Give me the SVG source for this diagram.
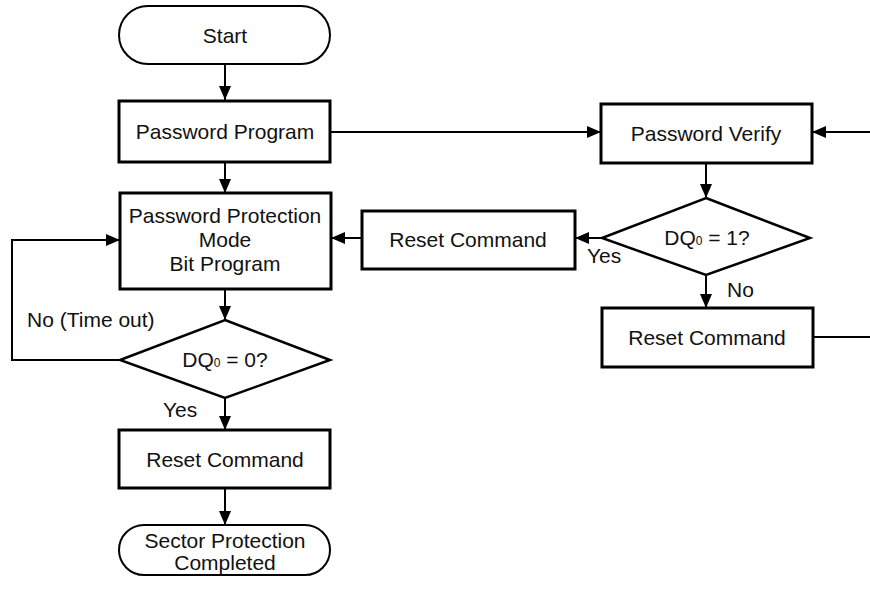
<svg xmlns="http://www.w3.org/2000/svg" width="870" height="590" viewBox="0 0 870 590">
<style>
  text { font-family: "Liberation Sans", Arial, sans-serif; font-size: 21px; fill: #111; text-anchor: middle; }
  .lbl { text-anchor: start; }
  .box { fill: #fff; stroke: #000; stroke-width: 3; }
  .term { fill: #fff; stroke: #000; stroke-width: 2; }
  .dia { fill: #fff; stroke: #000; stroke-width: 2.5; stroke-linejoin: miter; }
  .con { fill: none; stroke: #000; stroke-width: 2; }
  .sub { font-size: 12px; }
</style>
<defs>
  <marker id="arr" markerUnits="userSpaceOnUse" markerWidth="14" markerHeight="12" refX="14" refY="6" orient="auto">
    <path d="M0,0 L14,6 L0,12 z" fill="#000"/>
  </marker>
</defs>
<rect width="870" height="590" fill="#fff"/>

<g id="connectors">
  <line class="con" x1="225" y1="64" x2="225" y2="100" marker-end="url(#arr)"/>
  <line class="con" x1="225" y1="162" x2="225" y2="193" marker-end="url(#arr)"/>
  <line class="con" x1="331" y1="132" x2="601" y2="132" marker-end="url(#arr)"/>
  <line class="con" x1="870" y1="132" x2="812" y2="132" marker-end="url(#arr)"/>
  <line class="con" x1="706" y1="163" x2="706" y2="198" marker-end="url(#arr)"/>
  <line class="con" x1="602" y1="238" x2="575" y2="238" marker-end="url(#arr)"/>
  <line class="con" x1="362" y1="238" x2="331" y2="238" marker-end="url(#arr)"/>
  <line class="con" x1="706" y1="275" x2="706" y2="308" marker-end="url(#arr)"/>
  <line class="con" x1="813" y1="337" x2="870" y2="337"/>
  <line class="con" x1="225" y1="289" x2="225" y2="320" marker-end="url(#arr)"/>
  <polyline class="con" points="120,360 12,360 12,240 120,240" marker-end="url(#arr)"/>
  <line class="con" x1="225" y1="398" x2="225" y2="430" marker-end="url(#arr)"/>
  <line class="con" x1="225" y1="488" x2="225" y2="525" marker-end="url(#arr)"/>
  <text class="lbl" x="27" y="327">No (Time out)</text>
  <text class="lbl" x="163" y="417">Yes</text>
  <text class="lbl" x="587" y="263">Yes</text>
  <text class="lbl" x="727" y="297">No</text>
</g>

<g id="start">
  <rect class="term" x="119" y="6" width="211" height="58" rx="29" ry="29"/>
  <text x="225" y="43">Start</text>
</g>

<g id="password-program">
  <rect class="box" x="119" y="101" width="211" height="61"/>
  <text x="225" y="139">Password Program</text>
</g>

<g id="password-verify">
  <rect class="box" x="601" y="104" width="211" height="59"/>
  <text x="706" y="141">Password Verify</text>
</g>

<g id="ppm-bit-program">
  <rect class="box" x="120" y="193" width="211" height="96"/>
  <text x="225" y="223">Password Protection</text>
  <text x="225" y="247">Mode</text>
  <text x="225" y="271">Bit Program</text>
</g>

<g id="dq-eq-1">
  <polygon class="dia" points="706,198 810,238 706,275 602,238"/>
  <text x="707" y="245">DQ<tspan class="sub">0</tspan> = 1?</text>
</g>

<g id="reset-mid">
  <rect class="box" x="362" y="211" width="213" height="58"/>
  <text x="468" y="247">Reset Command</text>
</g>

<g id="reset-right">
  <rect class="box" x="602" y="308" width="211" height="59"/>
  <text x="707" y="345">Reset Command</text>
</g>

<g id="dq-eq-0">
  <polygon class="dia" points="225,320 330,360 225,398 120,360"/>
  <text x="225" y="367">DQ<tspan class="sub">0</tspan> = 0?</text>
</g>

<g id="reset-bottom">
  <rect class="box" x="119" y="430" width="211" height="58"/>
  <text x="225" y="467">Reset Command</text>
</g>

<g id="sector-protection-completed">
  <rect class="term" x="119" y="525" width="211" height="50" rx="25" ry="25"/>
  <text x="225" y="548">Sector Protection</text>
  <text x="225" y="570">Completed</text>
</g>
</svg>
